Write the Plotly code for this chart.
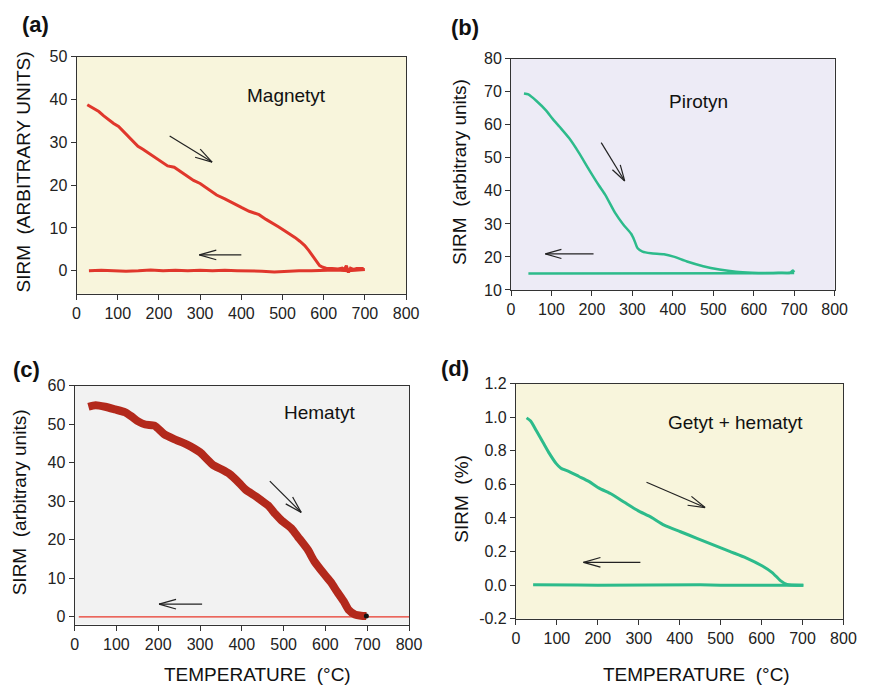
import math
import plotly.graph_objects as go

W, H = 880, 697

# ---------------- data ----------------
# (a) Magnetyt
a_heat_T = [26, 40, 54, 66, 78, 90, 102, 114, 125, 137, 149, 161, 173, 185, 197, 209, 221, 237, 249, 260, 272, 284, 300,
            320, 340, 360, 379, 400, 419, 443, 460, 475, 490, 506, 518, 530, 542, 554, 564, 574, 582, 590, 598, 606,
            620, 635, 645, 650, 655, 660, 665, 672, 680, 690, 697]
a_heat_S = [38.8, 37.9, 37.2, 36.2, 35.2, 34.4, 33.7, 32.5, 31.4, 30.2, 29.1, 28.4, 27.6, 26.8, 26.1, 25.3, 24.5, 24.2,
            23.4, 22.6, 21.8, 21.1, 20.4, 19.0, 17.7, 16.8, 15.8, 14.8, 13.9, 13.1, 12.0, 11.2, 10.3, 9.3, 8.6, 7.8, 6.9,
            5.9, 4.7, 3.3, 2.2, 1.2, 0.8, 0.6, 0.5, 0.4, 0.6, 0.3, 1.2, -0.4, 0.6, 0.3, 0.5, 0.4, 0.5]
a_cool_T = [30, 60, 90, 120, 150, 180, 210, 240, 270, 300, 330, 360, 390, 420, 450, 480, 510, 540, 570, 600, 630,
            660, 690, 700]
a_cool_S = [0.0, 0.1, 0.0, -0.1, 0.0, 0.2, 0.0, 0.1, 0.0, 0.1, 0.0, 0.1, 0.0, 0.0, -0.1, -0.3, -0.1, 0.0, 0.0, 0.1,
            0.2, 0.0, 0.2, 0.3]

# (b) Pirotyn
b_heat_T = [32, 43, 63, 87, 103, 120, 144, 168, 192, 217, 233, 257, 277, 297, 305, 313, 325, 346, 378, 402, 435, 475,
            515, 556, 596, 630, 661, 690, 697, 700]
b_heat_S = [69.5, 69.2, 67.2, 64.3, 61.8, 59.4, 55.9, 51.5, 46.6, 41.7, 38.8, 33.4, 29.9, 27.0, 25.0, 22.6, 21.6, 21.1,
            20.8, 20.1, 18.6, 17.2, 16.2, 15.5, 15.2, 15.1, 15.2, 15.2, 15.9, 15.4]
b_cool_T = [43, 100, 150, 200, 250, 300, 350, 400, 450, 500, 550, 600, 650, 700]
b_cool_S = [15.0, 15.0, 15.0, 15.1, 15.0, 14.9, 15.1, 15.1, 15.1, 15.1, 15.1, 15.1, 15.0, 15.1]

# (c) Hematyt
c_heat_T = [33, 50, 73, 97, 120, 136, 152, 169, 191, 214, 238, 269, 300, 316, 331, 351, 370, 394, 409, 433, 448, 464,
            480, 495, 519, 534, 558, 573, 597, 613, 628, 644, 655, 671, 685, 698]
c_heat_S = [54.5, 54.9, 54.5, 53.8, 53.1, 52.0, 50.7, 49.9, 49.6, 47.4, 46.1, 44.7, 42.7, 41.0, 39.4, 38.3, 37.1, 34.7,
            33.0, 31.3, 30.1, 28.8, 26.7, 25.0, 22.9, 20.8, 17.4, 14.5, 11.1, 9.0, 6.5, 4.0, 1.9, 0.6, 0.3, 0.2]
c_cool_T = [10, 800]
c_cool_S = [0.0, 0.0]
c_end_T = [698]
c_end_S = [0.2]

# (d) Getyt + hematyt
d_heat_T = [26, 36, 50, 66, 82, 98, 110, 130, 154, 178, 202, 234, 266, 298, 330, 362, 402, 442, 482, 522, 562, 602,
            626, 646, 662, 702]
d_heat_S = [0.996, 0.977, 0.919, 0.851, 0.783, 0.725, 0.696, 0.676, 0.647, 0.618, 0.579, 0.541, 0.492, 0.444, 0.405,
            0.357, 0.318, 0.279, 0.240, 0.201, 0.163, 0.114, 0.075, 0.027, 0.004, 0.0]
d_cool_T = [42, 100, 150, 200, 250, 300, 350, 400, 450, 500, 550, 600, 650, 702]
d_cool_S = [0.003, 0.0, 0.001, 0.0, 0.001, 0.0, 0.003, 0.0, 0.002, 0.0, 0.002, 0.0, 0.0, 0.0]

x_ticks = [0, 100, 200, 300, 400, 500, 600, 700, 800]

FONT = "Liberation Sans, Arial, sans-serif"
RED = "#e0372c"
GREEN = "#2dbb8b"
DARKRED = "#b3291c"
YELLOW_BG = "#f8f5dc"

# panel geometry in pixels: (left, right, top, bottom)
panels = {
    "a": dict(px=(74, 410, 50, 293), xr=[0, 800], yr=[-5.4, 50], bg=YELLOW_BG, dt=10),
    "b": dict(px=(517, 847, 52, 289), xr=[0, 800], yr=[10, 80], bg="#edebf6", dt=10),
    "c": dict(px=(72, 413, 387, 632), xr=[0, 800], yr=[-2, 60], bg="#f2f2f2", dt=10),
    "d": dict(px=(522, 856, 385, 626), xr=[0, 800], yr=[-0.2, 1.2], bg=YELLOW_BG, dt=0.2),
}

fig = go.Figure()
layout = dict(width=W, height=H, margin=dict(l=0, r=0, t=0, b=0),
              paper_bgcolor="white", plot_bgcolor="white", showlegend=False,
              font=dict(family=FONT, color="#222"))

shapes = []
for i, (key, p) in enumerate(panels.items(), start=1):
    l, r, t, b = p["px"]
    sfx = "" if i == 1 else str(i)
    layout["xaxis" + sfx] = dict(domain=[l / W, r / W], range=p["xr"], tickvals=x_ticks,
                                 ticks="outside", ticklen=5, tickcolor="#333", showline=True, linecolor="#333",
                                 linewidth=1, mirror=True, showgrid=False, zeroline=False,
                                 tickfont=dict(size=16, family=FONT, color="#222"),
                                 anchor="y" + sfx)
    ytick_fmt = ".1f" if key == "d" else "d"
    layout["yaxis" + sfx] = dict(domain=[1 - b / H, 1 - t / H], range=p["yr"], dtick=p["dt"],
                                 tick0=0, ticks="outside", ticklen=5, tickcolor="#333", showline=True,
                                 linecolor="#333", linewidth=1, mirror=True, showgrid=False, zeroline=False,
                                 tickformat=ytick_fmt,
                                 tickfont=dict(size=16, family=FONT, color="#222"),
                                 anchor="x" + sfx)
    shapes.append(dict(type="rect", xref="x" + sfx + " domain", yref="y" + sfx + " domain",
                       x0=0, x1=1, y0=0, y1=1, fillcolor=p["bg"], line=dict(width=0), layer="below"))

layout["yaxis4"]["tickvals"] = [-0.2, 0.0, 0.2, 0.4, 0.6, 0.8, 1.0, 1.2]
layout["yaxis4"]["ticktext"] = ["-0.2", "0.0", "0.2", "0.4", "0.6", "0.8", "1.0", "1.2"]

# traces
fig.add_trace(go.Scatter(x=a_cool_T, y=a_cool_S, mode="lines", line=dict(color=RED, width=3), xaxis="x", yaxis="y"))
fig.add_trace(go.Scatter(x=a_heat_T, y=a_heat_S, mode="lines", line=dict(color=RED, width=3), xaxis="x", yaxis="y"))
fig.add_trace(go.Scatter(x=b_cool_T, y=b_cool_S, mode="lines", line=dict(color=GREEN, width=2.5), xaxis="x2", yaxis="y2"))
fig.add_trace(go.Scatter(x=b_heat_T, y=b_heat_S, mode="lines", line=dict(color=GREEN, width=2.5, shape="spline", smoothing=0.6),
                         xaxis="x2", yaxis="y2"))
fig.add_trace(go.Scatter(x=c_cool_T, y=c_cool_S, mode="lines", line=dict(color="#e8372a", width=1.3), xaxis="x3", yaxis="y3"))
fig.add_trace(go.Scatter(x=c_heat_T, y=c_heat_S, mode="lines", line=dict(color=DARKRED, width=8, shape="spline", smoothing=0.6),
                         xaxis="x3", yaxis="y3"))
fig.add_trace(go.Scatter(x=c_end_T, y=c_end_S, mode="markers", marker=dict(color="#111", size=5), xaxis="x3", yaxis="y3"))
fig.add_trace(go.Scatter(x=d_cool_T, y=d_cool_S, mode="lines", line=dict(color=GREEN, width=3), xaxis="x4", yaxis="y4"))
fig.add_trace(go.Scatter(x=d_heat_T, y=d_heat_S, mode="lines", line=dict(color=GREEN, width=3, shape="spline", smoothing=0.6),
                         xaxis="x4", yaxis="y4"))


def px(x, y):
    return x / W, 1 - y / H


annotations = []


def text(x, y, s, size, bold=False, angle=0):
    xx, yy = px(x, y)
    annotations.append(dict(xref="paper", yref="paper", x=xx, y=yy, text=("<b>%s</b>" % s) if bold else s,
                            showarrow=False, xanchor="center", yanchor="middle", textangle=angle,
                            font=dict(size=size, family=FONT, color="#111")))


# panel labels
text(32, 17, "(a)", 22, bold=True)
text(470, 20, "(b)", 22, bold=True)
text(23, 371, "(c)", 22, bold=True)
text(460, 370, "(d)", 22, bold=True)

# mineral names
text(288, 90, "Magnetyt", 19)
text(708, 96, "Pirotyn", 19)
text(322, 415, "Hematyt", 19)
text(746, 425, "Getyt + hematyt", 19)

# axis titles
text(20, 168, "SIRM  (ARBITRARY UNITS)", 19, angle=-90)
text(465, 168, "SIRM  (arbitrary units)", 19, angle=-90)
text(16, 507, "SIRM  (arbitrary units)", 19, angle=-90)
text(467, 503, "SIRM  (%)", 19, angle=-90)
text(258, 683, "TEMPERATURE  (°C)", 19)
text(706, 683, "TEMPERATURE  (°C)", 19)


def to_px(key, x, y):
    p = panels[key]
    l, r, t, b = p["px"]
    x0, x1 = p["xr"]
    y0, y1 = p["yr"]
    return l + (x - x0) / (x1 - x0) * (r - l), b - (y - y0) / (y1 - y0) * (b - t)


def arrow(key, xs, ys, xe, ye, barb=18, ang=16):
    """Thin open arrow from (xs, ys) to (xe, ye) given in data units of the panel."""
    sx, sy = to_px(key, xs, ys)
    ex, ey = to_px(key, xe, ye)
    th = math.atan2(sy - ey, sx - ex)
    segs = [(sx, sy, ex, ey)]
    for d in (-1, 1):
        a = th + d * math.radians(ang)
        segs.append((ex, ey, ex + barb * math.cos(a), ey + barb * math.sin(a)))
    for (x0, y0, x1, y1) in segs:
        p0 = px(x0, y0)
        p1 = px(x1, y1)
        shapes.append(dict(type="line", xref="paper", yref="paper", x0=p0[0], y0=p0[1], x1=p1[0], y1=p1[1],
                           line=dict(color="#222", width=1.2)))


arrow("a", 226, 31.5, 329, 25.4)
arrow("a", 400, 3.7, 298, 3.7)
arrow("b", 223, 54.6, 281, 43.0, barb=17)
arrow("b", 204, 20.9, 85, 20.9, barb=17)
arrow("c", 467, 35.2, 542, 27.1)
arrow("c", 305, 3.3, 202, 3.3)
arrow("d", 319, 0.613, 462, 0.462)
arrow("d", 304, 0.136, 165, 0.136)

layout["shapes"] = shapes
layout["annotations"] = annotations
fig.update_layout(**layout)

fig.write_html("out.html", config={"displayModeBar": False})
